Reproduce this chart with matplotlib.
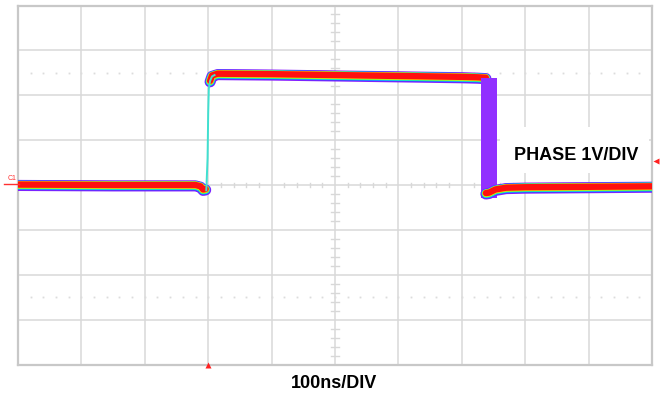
import numpy as np
import matplotlib.pyplot as plt
from matplotlib.patches import FancyBboxPatch

# screen: 10 horizontal divisions, 8 vertical divisions (centre = 0)
n_xdiv = 10
n_ydiv = 8

# trace data, in divisions
base_x = [0.0, 1.5, 2.80, 2.88, 2.92, 2.96]
base_y = [-0.01, -0.02, -0.02, -0.05, -0.12, -0.11]

rise_x = [2.97, 2.99, 3.00, 3.01, 3.03, 3.06, 3.10]
rise_y = [-0.12, 0.60, 1.60, 2.15, 2.32, 2.42, 2.45]

high_x = [3.03, 3.06, 3.15, 4.0, 5.0, 6.0, 7.0, 7.25, 7.38]
high_y = [2.30, 2.42, 2.46, 2.45, 2.43, 2.41, 2.39, 2.38, 2.37]

fall_left = 7.30
fall_right = 7.55
fall_top = 2.38
fall_bottom = -0.30

low_x = [7.38, 7.43, 7.53, 7.70, 8.0, 9.0, 10.0]
low_y = [-0.20, -0.19, -0.12, -0.08, -0.07, -0.06, -0.05]

# persistence colours, outer to inner, with widths in points
layers = [('#8a1cff', 8.0), ('#4040ff', 7.0), ('#00d8ff', 6.3),
          ('#40ff50', 5.7), ('#ffe800', 5.2), ('#ff1010', 4.6)]
shift = 0.004   # inner layers sit a little higher in the band

trig_x = 3.0

fig = plt.figure(figsize=(6.61, 3.96), dpi=100)
L, R, T, B = 18, 652, 5.5, 364.5
ax = fig.add_axes([L / 661, 1 - B / 396, (R - L) / 661, (B - T) / 396])
ax.set_xlim(0, n_xdiv)
ax.set_ylim(-n_ydiv / 2, n_ydiv / 2)
ax.set_xticks([])
ax.set_yticks([])
for s in ax.spines.values():
    s.set_color('#c8c8c8')
    s.set_linewidth(1.6)

grid_c = '#d8d8d8'
for gx in range(1, n_xdiv):
    ax.axvline(gx, color=grid_c, lw=1.1, zorder=1)
for gy in range(-n_ydiv // 2 + 1, n_ydiv // 2):
    ax.axhline(gy, color=grid_c, lw=1.1, zorder=1)

# minor ticks on the centre lines
for mx in np.arange(0, n_xdiv, 0.2):
    if abs(mx - round(mx)) > 1e-6:
        ax.plot([mx, mx], [-0.05, 0.05], color=grid_c, lw=1.0, zorder=1)
for my in np.arange(-4, 4, 0.2):
    if abs(my - round(my)) > 1e-6:
        ax.plot([4.94, 5.06], [my, my], color=grid_c, lw=1.0, zorder=1)

# dotted lines at +/- 2.5 div
dots = [d for d in np.arange(0.2, n_xdiv, 0.2)]
for dy in (2.5, -2.5):
    ax.plot(dots, [dy] * len(dots), ls='none', marker='s', ms=1.3,
            color='#dcdcdc', mec='none', zorder=1)

# trace
for k, (col, lw) in enumerate(layers):
    off = k * shift
    ax.plot(base_x, np.add(base_y, off), color=col, lw=lw,
            solid_capstyle='round', zorder=3)
    ax.plot(high_x, np.add(high_y, off), color=col, lw=lw,
            solid_capstyle='round', zorder=3)
ax.fill_between([fall_left, fall_right], fall_bottom, fall_top,
                color='#9130ff', zorder=3, lw=0)
for k, (col, lw) in enumerate(layers):
    ax.plot(low_x, np.add(low_y, k * shift), color=col, lw=lw,
            solid_capstyle='round', zorder=4)
ax.plot(rise_x, rise_y, color='#40e0d0', lw=1.4, zorder=4)

# label box
ax.add_patch(FancyBboxPatch((7.6, 0.27), 2.35, 1.02, boxstyle='square,pad=0',
                            fc='white', ec='none', zorder=5))
ax.text(7.82, 0.66, 'PHASE 1V/DIV', fontsize=13, fontweight='bold',
        family='Liberation Sans', va='center', ha='left', zorder=6)

fig.text(334 / 661, 1 - 383 / 396, '100ns/DIV', fontsize=13,
         fontweight='bold', family='Liberation Sans', ha='center', va='center')

# channel marker and trigger markers
fig.text(12 / 661, 1 - 179 / 396, 'C1', fontsize=5, color='#ff3030',
         ha='center', va='center', family='Liberation Sans')
fig.add_artist(plt.Line2D([4 / 661, 19 / 661], [1 - 183.5 / 396] * 2,
                          color='#ff3030', lw=1.0))
ax.plot([trig_x], [-4.0], marker='^', ms=4, color='#ff2020', mec='none',
        clip_on=False, zorder=7)
fig.add_artist(plt.Line2D([656 / 661], [1 - 161 / 396], marker='<', ms=4,
                          color='#ff2020', mec='none', ls='none'))

fig.savefig('out.png', dpi=100)
